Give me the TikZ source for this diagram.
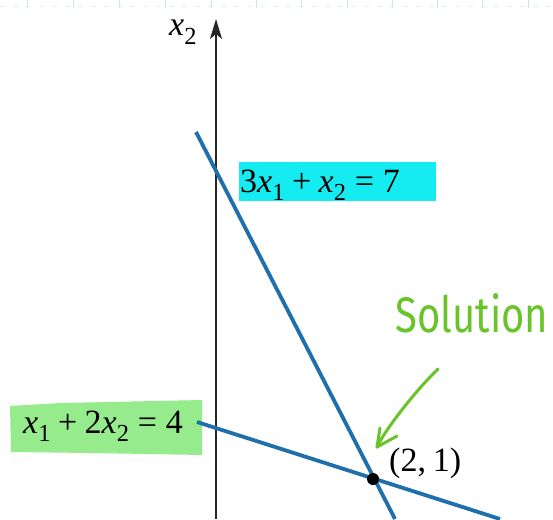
\documentclass[tikz,border=0pt]{standalone}
\usepackage{fontspec}
\setmainfont{Liberation Serif}
\newfontfamily\handfont{Fira Sans}
\usepackage{graphicx}
\usetikzlibrary{arrows.meta}
\definecolor{lineblue}{RGB}{31,111,173}
\definecolor{hlcyan}{RGB}{20,236,242}
\definecolor{hlgreen}{RGB}{150,236,140}
\definecolor{penGreen}{RGB}{104,196,40}
\definecolor{gridblue}{RGB}{205,226,244}
\newcommand\vx{\textit{x}}
\newcommand\sbs[1]{\raisebox{-0.24em}{\scalebox{0.72}{#1}}}
\begin{document}
\begin{tikzpicture}[x=1pt,y=-1pt,
  eqline/.style={draw=lineblue,line width=3.8pt},
  lbl/.style={inner sep=0pt,font=\fontsize{34}{38}\selectfont},
  pen/.style={draw=penGreen,line width=3pt,line cap=round,line join=round}]
\useasboundingbox (0,0) rectangle (553,519);
\fill[white] (0,0) rectangle (553,519);
% faint page grid at top
\foreach \gx in {27,73,119,165,211,256,301,347,392,437,482,528}
  \draw[gridblue,line width=1pt] (\gx,0) -- (\gx,8);
\draw[gridblue!60,line width=0.8pt,dash pattern=on 5pt off 8pt] (0,6) -- (553,6);
% highlights
\fill[hlcyan] (239,162) rectangle (436,201);
\fill[hlgreen] (10,406) -- (60,403) -- (202,400) -- (202,455) -- (90,453) -- (11,452) -- cycle;
% axis
\coordinate (axbot) at (216,519);
\coordinate (axtop) at (216,19);
\draw[black!85,line width=1.6pt,-{Stealth[length=20pt,width=12pt,inset=5pt]}] (axbot) -- (axtop);
\node[lbl,anchor=base west] (x2lab) at (169,36) {\vx\sbs{2}};
% lines
\coordinate (la) at (196,132);
\coordinate (lb) at (395,519);
\coordinate (ma) at (197,422);
\coordinate (mb) at (500,519);
\draw[eqline] (la) -- (lb);
\draw[eqline] (ma) -- (mb);
% labels
\node[lbl,anchor=base west] (eqone) at (240,192) {3\vx\sbs{1}\hspace{0.22em}+\hspace{0.22em}\vx\sbs{2}\hspace{0.26em}=\hspace{0.26em}7};
\node[lbl,anchor=base west] (eqtwo) at (23,433) {\vx\sbs{1}\hspace{0.22em}+\hspace{0.22em}2\vx\sbs{2}\hspace{0.26em}=\hspace{0.26em}4};
% solution point
\node[circle,fill=black,inner sep=0pt,minimum size=12pt] (sol) at (373,479) {};
\node[lbl,anchor=base west] (pt) at (389,471) {(2,\hspace{0.2em}1)};
% handwritten annotation
\node[inner sep=0pt,text=penGreen] (soltxt) at (472,313) {\scalebox{1}[1.25]{\handfont\fontsize{40}{44}\selectfont Solution}};
\coordinate (arrs) at (438,369);
\coordinate (arre) at (377,447);
\coordinate (hd1) at (380,428);
\coordinate (hd2) at (397,436);
\draw[pen] (arrs) .. controls (418,388) and (386,428) .. (arre);
\draw[pen] (hd1) -- (arre) -- (hd2);
\end{tikzpicture}
\end{document}
